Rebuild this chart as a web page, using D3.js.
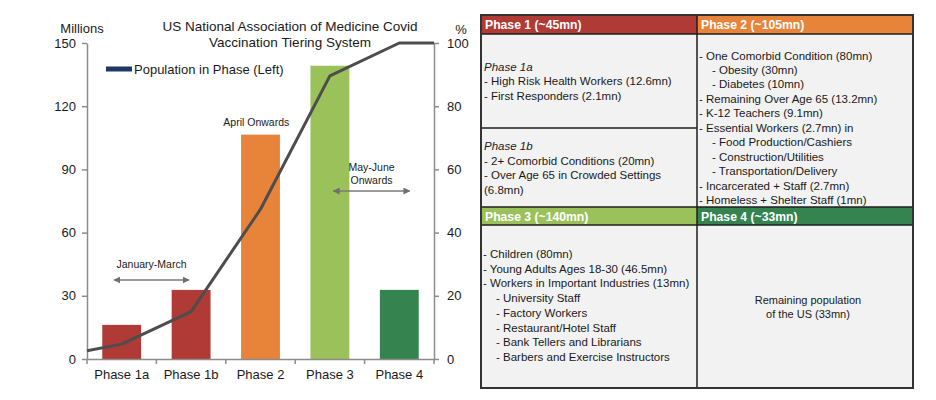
<!DOCTYPE html>
<html><head><meta charset="utf-8">
<script src="https://cdn.jsdelivr.net/npm/d3@7"></script>
<style>body{margin:0;background:#fff}svg{display:block;font-family:"Liberation Sans",Arial,sans-serif}</style>
</head><body><svg id="c" width="936" height="400"></svg>
<script>
// ---- data ----
const categories = ["Phase 1a","Phase 1b","Phase 2","Phase 3","Phase 4"];
const population = [16.2, 32.8, 106.5, 139.2, 32.8];          // millions (left)
const barColors = ["#b03a35","#b03a35","#e8843a","#9bc25a","#358450"];
const cumulativeIndex = [-0.5, 0, 1, 2, 3, 4, 4.5];          // category position (edges + centres)
const cumulativeShare = [2.6, 4.7, 15.0, 47.4, 89.6, 100, 100]; // % (right)
const leftTicks = [0,30,60,90,120,150];
const rightTicks = [0,20,40,60,80,100];
const titleLines = ["US National Association of Medicine Covid","Vaccination Tiering System"];
const legendLabel = "Population in Phase (Left)";
const periodNotes = [
  {lines:["January-March"], from:-0.11, to:0.97},
  {lines:["April Onwards"], at:1.94},
  {lines:["May-June","Onwards"], from:3.05, to:4.15}
];
const tableHeaders = ["Phase 1 (~45mn)","Phase 2 (~105mn)","Phase 3 (~140mn)","Phase 4 (~33mn)"];
const headerColors = ["#b03a35","#e8843a","#9bc25a","#358450"];
const phase1aLines = [["Phase 1a",0,true],["- High Risk Health Workers (12.6mn)",0],["- First Responders (2.1mn)",0]];
const phase1bLines = [["Phase 1b",0,true],["- 2+ Comorbid Conditions (20mn)",0],["- Over Age 65 in Crowded Settings",0],["(6.8mn)",0]];
const phase2Lines = [["- One Comorbid Condition (80mn)",0],["- Obesity (30mn)",1],["- Diabetes (10mn)",1],["- Remaining Over Age 65 (13.2mn)",0],["- K-12 Teachers (9.1mn)",0],["- Essential Workers (2.7mn) in",0],["- Food Production/Cashiers",1],["- Construction/Utilities",1],["- Transportation/Delivery",1],["- Incarcerated + Staff (2.7mn)",0],["- Homeless + Shelter Staff (1mn)",0]];
const phase3Lines = [["- Children (80mn)",0],["- Young Adults Ages 18-30 (46.5mn)",0],["- Workers in Important Industries (13mn)",0],["- University Staff",1],["- Factory Workers",1],["- Restaurant/Hotel Staff",1],["- Bank Tellers and Librarians",1],["- Barbers and Exercise Instructors",1]];
const phase4Lines = ["Remaining population","of the US (33mn)"];

// ---- chart ----
const svg = d3.select("#c");
const L = 87, R = 434, T = 43, B = 359;
const x = d3.scaleBand().domain(categories).range([L,R]).padding(0);
const xi = d3.scaleLinear().domain([-0.5,4.5]).range([L,R]);
const yL = d3.scaleLinear().domain([0,150]).range([B,T]);
const yR = d3.scaleLinear().domain([0,100]).range([B,T]);
const axisCol = "#8c8c8c", txtCol = "#1a1a1a";

// bars
const bw = x.bandwidth()*0.56;
svg.append("g").selectAll("rect").data(population).join("rect")
  .attr("x",(d,i)=>x(categories[i])+x.bandwidth()/2-bw/2)
  .attr("y",d=>yL(d)).attr("width",bw).attr("height",d=>yL(0)-yL(d))
  .attr("fill",(d,i)=>barColors[i]);

// axes
function styleAxis(g){
  g.attr("font-family",null);
  g.select(".domain").attr("stroke",axisCol).attr("stroke-width",1.5);
  g.selectAll(".tick line").attr("stroke",axisCol).attr("stroke-width",1.5);
  g.selectAll(".tick text").attr("fill",txtCol).style("font-size","13px").style("font-family","Liberation Sans, Arial, sans-serif");
}
svg.append("g").attr("transform",`translate(${L},0)`)
  .call(d3.axisLeft(yL).tickValues(leftTicks).tickSize(5).tickSizeOuter(0).tickPadding(6)).call(styleAxis);
svg.append("g").attr("transform",`translate(${R},0)`)
  .call(d3.axisRight(yR).tickValues(rightTicks).tickSize(5).tickSizeOuter(0).tickPadding(8)).call(styleAxis);
const xg = svg.append("g").attr("transform",`translate(0,${B})`)
  .call(d3.axisBottom(x).tickSize(0).tickPadding(11)).call(styleAxis);
xg.selectAll(".tick text").attr("dy","0.71em");
// x band separator ticks
svg.append("g").selectAll("line").data(d3.range(6)).join("line")
  .attr("x1",i=>xi(i-0.5)).attr("x2",i=>xi(i-0.5)).attr("y1",B).attr("y2",B+5)
  .attr("stroke",axisCol).attr("stroke-width",1.5);

// cumulative line
const lineData = cumulativeIndex.map((p,i)=>[p,cumulativeShare[i]]);
svg.append("path").datum(lineData)
  .attr("d",d3.line().x(d=>xi(d[0])).y(d=>yR(d[1])))
  .attr("fill","none").attr("stroke","#4d4d4d").attr("stroke-width",3).attr("stroke-linejoin","round");

// titles
svg.append("text").attr("x",82).attr("y",33).attr("text-anchor","middle").attr("fill",txtCol).style("font-size","13px").text("Millions");
svg.append("text").attr("x",461).attr("y",34).attr("text-anchor","middle").attr("fill",txtCol).style("font-size","13px").text("%");
svg.selectAll(".title").data(titleLines).join("text").attr("class","title")
  .attr("x",290).attr("y",(d,i)=>31+i*15.5).attr("text-anchor","middle").attr("fill",txtCol).style("font-size","13.5px").text(d=>d);

// legend
svg.append("rect").attr("x",106).attr("y",66.5).attr("width",26).attr("height",5).attr("fill","#1f3864");
svg.append("text").attr("x",134).attr("y",74).attr("fill",txtCol).style("font-size","13px").text(legendLabel);

// annotations
const defs = svg.append("defs");
defs.append("marker").attr("id","ah").attr("viewBox","0 0 10 10").attr("refX",9).attr("refY",5)
  .attr("markerWidth",7).attr("markerHeight",7).attr("orient","auto-start-reverse").attr("markerUnits","userSpaceOnUse")
  .append("path").attr("d","M0,0L10,5L0,10z").attr("fill","#6f6f6f");
function note(lines, cx, ty, arrow){
  svg.append("g").selectAll("text").data(lines).join("text")
    .attr("x",cx).attr("y",(d,i)=>ty+i*12.5).attr("text-anchor","middle").attr("fill",txtCol).style("font-size","10.5px").text(d=>d);
  if(arrow){
    svg.append("line").attr("x1",arrow[0]).attr("x2",arrow[1]).attr("y1",arrow[2]).attr("y2",arrow[2])
      .attr("stroke","#7a7a7a").attr("stroke-width",1.5).attr("marker-start","url(#ah)").attr("marker-end","url(#ah)");
  }
}
const n0 = periodNotes[0], n1 = periodNotes[1], n2 = periodNotes[2];
note(n0.lines, (xi(n0.from)+xi(n0.to))/2, 268, [xi(n0.from), xi(n0.to), 280]);
note(n1.lines, xi(n1.at), 126, null);
note(n2.lines, (xi(n2.from)+xi(n2.to))/2, 171, [xi(n2.from), xi(n2.to), 191]);

// ---- table ----
const tx0 = 481, tx1 = 697, tx2 = 913;
const ty0 = 15, th1 = 34, tsplit = 128, ty2 = 207, th2 = 225, ty3 = 388;
const tg = svg.append("g");
tg.append("rect").attr("x",tx0).attr("y",ty0).attr("width",tx2-tx0).attr("height",ty3-ty0).attr("fill","#f2f2f2");
const headerBoxes = [[tx0,ty0,tx1,th1],[tx1,ty0,tx2,th1],[tx0,ty2,tx1,th2],[tx1,ty2,tx2,th2]];
headerBoxes.forEach((b,i)=>{
  tg.append("rect").attr("x",b[0]).attr("y",b[1]).attr("width",b[2]-b[0]).attr("height",b[3]-b[1]).attr("fill",headerColors[i]);
  tg.append("text").attr("x",b[0]+4).attr("y",b[1]+14).attr("fill","#fff").style("font-size","12.2px").style("font-weight","bold").text(tableHeaders[i]);
});
const bc = "#1e1e1e";
const hl = [[tx0,tx2,th1],[tx0,tx1,tsplit],[tx0,tx2,ty2],[tx0,tx2,th2]];
hl.forEach(l=>tg.append("line").attr("x1",l[0]).attr("x2",l[1]).attr("y1",l[2]).attr("y2",l[2]).attr("stroke",bc).attr("stroke-width",1.5));
tg.append("line").attr("x1",tx1).attr("x2",tx1).attr("y1",ty0).attr("y2",ty3).attr("stroke",bc).attr("stroke-width",1.5);
tg.append("rect").attr("x",tx0).attr("y",ty0).attr("width",tx2-tx0).attr("height",ty3-ty0).attr("fill","none").attr("stroke","#333").attr("stroke-width",2);

function cell(lines, x0, yFirst, step){
  tg.append("g").selectAll("text").data(lines).join("text")
    .attr("x",d=>x0+(d[1]?13:0)).attr("y",(d,i)=>yFirst+i*step)
    .attr("fill",txtCol).style("font-size","11.5px").style("font-style",d=>d[2]?"italic":"normal").text(d=>d[0]);
}
cell(phase1aLines, 484, 71, 14.4);
cell(phase1bLines, 484, 150, 14.6);
cell(phase2Lines, 699, 59.5, 14.45);
cell(phase3Lines, 483, 258, 14.7);
tg.append("g").selectAll("text").data(phase4Lines).join("text")
  .attr("x",(tx1+tx2)/2+3).attr("y",(d,i)=>304+i*14.3).attr("text-anchor","middle")
  .attr("fill",txtCol).style("font-size","11px").text(d=>d);
</script></body></html>
